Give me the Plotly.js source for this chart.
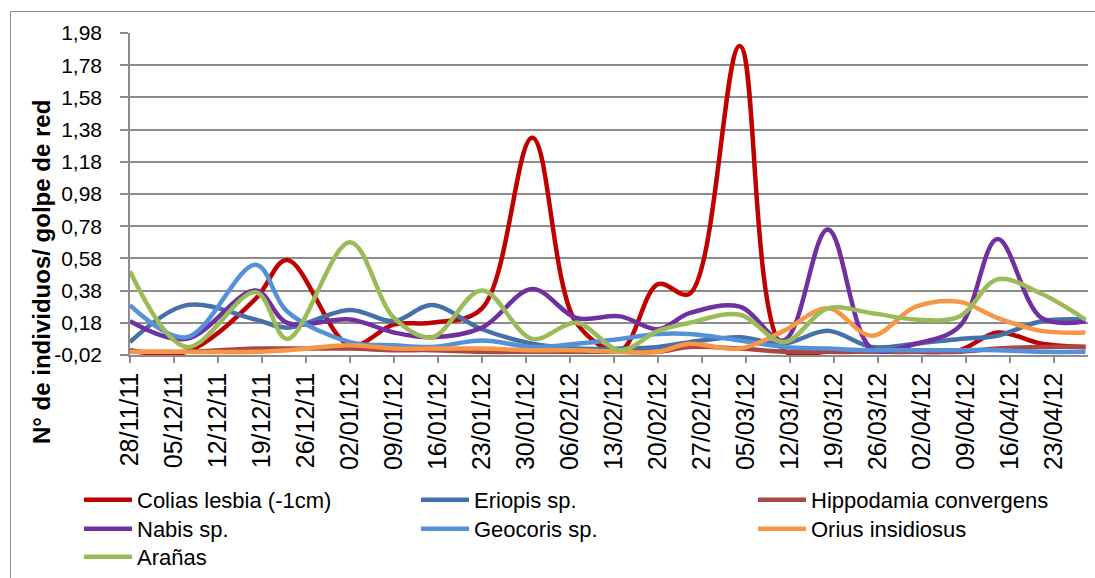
<!DOCTYPE html>
<html>
<head>
<meta charset="utf-8">
<script src="https://cdn.plot.ly/plotly-3.0.1.min.js"></script>
<style>
  html, body { margin: 0; padding: 0; background: #ffffff; }
  #chart { width: 1095px; height: 578px; }
</style>
</head>
<body>
<div id="chart"></div>
<script>
// Sampling dates
const sampleDates = ['2011-11-28','2011-12-07','2011-12-18','2011-12-23','2012-01-02','2012-01-09','2012-01-15','2012-01-23','2012-01-31','2012-02-07','2012-02-14','2012-02-20','2012-02-25','2012-03-04','2012-03-11','2012-03-18','2012-03-25','2012-04-01','2012-04-08','2012-04-14','2012-04-21','2012-04-28'];

// Series values (individuos / golpe de red)
const coliasLesbia   = [0.01, 0.00, 0.33, 0.57, 0.04, 0.17, 0.18, 0.27, 1.33, 0.18, 0.01, 0.42, 0.36, 1.90, 0.01, 0.00, 0.00, 0.00, 0.01, 0.12, 0.05, 0.03];
const eriopis        = [0.06, 0.29, 0.20, 0.15, 0.26, 0.19, 0.29, 0.14, 0.05, 0.02, 0.02, 0.03, 0.06, 0.09, 0.05, 0.13, 0.03, 0.05, 0.08, 0.10, 0.19, 0.20];
const hippodamia     = [0.00, 0.00, 0.02, 0.02, 0.02, 0.01, 0.01, 0.00, 0.00, 0.00, 0.00, 0.00, 0.03, 0.02, 0.00, 0.00, 0.00, 0.00, 0.00, 0.02, 0.03, 0.03];
const nabis          = [0.19, 0.08, 0.38, 0.18, 0.20, 0.12, 0.09, 0.15, 0.39, 0.21, 0.22, 0.14, 0.24, 0.28, 0.07, 0.76, 0.02, 0.05, 0.16, 0.70, 0.21, 0.19];
const geocoris       = [0.29, 0.09, 0.54, 0.25, 0.06, 0.04, 0.03, 0.07, 0.03, 0.05, 0.08, 0.11, 0.11, 0.07, 0.03, 0.02, 0.01, 0.01, 0.01, 0.01, 0.00, 0.00];
const orius          = [0.00, 0.00, 0.00, 0.01, 0.04, 0.02, 0.02, 0.02, 0.01, 0.01, 0.00, 0.00, 0.05, 0.02, 0.13, 0.27, 0.10, 0.28, 0.31, 0.21, 0.13, 0.12];
const aranas         = [0.50, 0.03, 0.37, 0.08, 0.68, 0.21, 0.09, 0.38, 0.08, 0.18, 0.01, 0.13, 0.18, 0.23, 0.06, 0.27, 0.24, 0.20, 0.22, 0.45, 0.36, 0.20];

const seriesNames = ['Colias lesbia (-1cm)', 'Eriopis sp.', 'Hippodamia convergens', 'Nabis sp.', 'Geocoris sp.', 'Orius insidiosus', 'Arañas'];
const seriesValues = [coliasLesbia, eriopis, hippodamia, nabis, geocoris, orius, aranas];
const seriesColors = ['#C00000', '#4571A8', '#AA4643', '#7030A0', '#5591D8', '#F79646', '#9BBB59'];

// Axis ticks
const xTickDates = ['2011-11-28','2011-12-05','2011-12-12','2011-12-19','2011-12-26','2012-01-02','2012-01-09','2012-01-16','2012-01-23','2012-01-30','2012-02-06','2012-02-13','2012-02-20','2012-02-27','2012-03-05','2012-03-12','2012-03-19','2012-03-26','2012-04-02','2012-04-09','2012-04-16','2012-04-23'];
const xTickLabels = ['28/11/11','05/12/11','12/12/11','19/12/11','26/12/11','02/01/12','09/01/12','16/01/12','23/01/12','30/01/12','06/02/12','13/02/12','20/02/12','27/02/12','05/03/12','12/03/12','19/03/12','26/03/12','02/04/12','09/04/12','16/04/12','23/04/12'];
const yTickVals = [-0.02, 0.18, 0.38, 0.58, 0.78, 0.98, 1.18, 1.38, 1.58, 1.78, 1.98];
const yTickLabels = ['-0,02', '0,18', '0,38', '0,58', '0,78', '0,98', '1,18', '1,38', '1,58', '1,78', '1,98'];

const yTitle = 'N° de individuos/ golpe de red';

// legend rows (three entries per row, as in the reference)
const legendRows = ['legend', 'legend', 'legend', 'legend2', 'legend2', 'legend2', 'legend3'];

const traces = seriesNames.map((name, i) => ({
  type: 'scatter',
  mode: 'lines',
  name: name,
  x: sampleDates,
  y: seriesValues[i],
  legend: legendRows[i],
  line: { color: seriesColors[i], width: 4.5, shape: 'spline', smoothing: 1 },
  hoverinfo: 'x+y+name'
}));

// Plot area geometry (pixels)
const W = 1095, H = 578;
const mL = 130, mR = 7, mT = 33, mB = 223;
const pw = W - mL - mR, ph = H - mT - mB;
const px = (p) => (p - mL) / pw;
const py = (p) => (H - mB - p) / ph;

const FONT = 'Liberation Sans, Arial, sans-serif';
const legendBase = (topPx) => ({
  orientation: 'h',
  x: px(79),
  xanchor: 'left',
  y: py(topPx),
  yanchor: 'top',
  entrywidth: 274,
  entrywidthmode: 'pixels',
  itemwidth: 48,
  font: { size: 22, family: FONT, color: '#000000' },
  bgcolor: 'rgba(0,0,0,0)',
  traceorder: 'normal'
});

const layout = {
  width: W,
  height: H,
  margin: { l: mL, r: mR, t: mT, b: mB, pad: 0, autoexpand: false },
  paper_bgcolor: '#ffffff',
  plot_bgcolor: '#ffffff',
  font: { family: FONT, color: '#000000', size: 20 },
  showlegend: true,
  xaxis: {
    type: 'date',
    range: ['2011-11-28', '2012-04-28 09:36'],
    tickmode: 'array',
    tickvals: xTickDates,
    ticktext: xTickLabels,
    tickangle: -90,
    tickfont: { size: 25, family: FONT },
    ticks: 'outside',
    ticklen: 6,
    tickwidth: 1.5,
    tickcolor: '#8C8C8C',
    showgrid: false,
    showline: true,
    linecolor: '#8C8C8C',
    linewidth: 1.5,
    zeroline: false,
    automargin: false,
    fixedrange: true
  },
  yaxis: {
    range: [-0.02, 1.98],
    tickmode: 'array',
    tickvals: yTickVals,
    ticktext: yTickLabels,
    tickfont: { size: 21, family: FONT },
    ticks: 'outside',
    ticklen: 8,
    tickwidth: 1.5,
    tickcolor: '#8C8C8C',
    ticklabelstandoff: 14,
    showgrid: true,
    gridcolor: '#8C8C8C',
    gridwidth: 1.5,
    showline: true,
    linecolor: '#8C8C8C',
    linewidth: 1.5,
    zeroline: false,
    automargin: false,
    fixedrange: true
  },
  legend: legendBase(479),
  legend2: legendBase(508),
  legend3: legendBase(536),
  annotations: [{
    text: '<b>' + yTitle + '</b>',
    xref: 'paper', yref: 'paper',
    x: px(41), y: py(272),
    xanchor: 'center', yanchor: 'middle',
    textangle: -90,
    showarrow: false,
    font: { size: 24, family: FONT, color: '#000000' }
  }],
  shapes: [{
    type: 'rect',
    xref: 'paper', yref: 'paper',
    x0: px(10.5), x1: px(1110),
    y0: py(600), y1: py(11.5),
    line: { color: '#8C8C8C', width: 1 },
    fillcolor: 'rgba(0,0,0,0)',
    layer: 'below'
  }]
};

Plotly.newPlot('chart', traces, layout, { displayModeBar: false, staticPlot: false });
</script>
</body>
</html>
